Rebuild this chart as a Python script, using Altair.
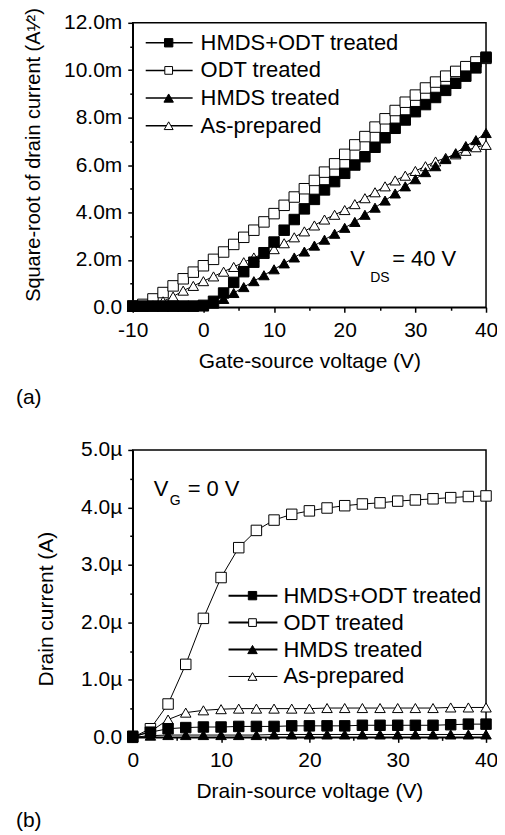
import altair as alt
import pandas as pd

FONT = "Liberation Sans"

SERIES = ["HMDS+ODT treated", "ODT treated", "HMDS treated", "As-prepared"]
SHAPES = ["square", "square", "triangle-up", "triangle-up"]
FILLS = ["black", "white", "black", "white"]
DRAW_ORDER = [3, 1, 4, 2]

# ---------- (a) transfer curves: sqrt(Id) in mA^1/2 vs Vgs ----------
VGS = [-10.0, -8.57, -7.14, -5.71, -4.29, -2.86, -1.43, 0.0, 1.43, 2.86, 4.29, 5.71,
       7.14, 8.57, 10.0, 11.43, 12.86, 14.29, 15.71, 17.14, 18.57, 20.0, 21.43, 22.86,
       24.29, 25.71, 27.14, 28.57, 30.0, 31.43, 32.86, 34.29, 35.71, 37.14, 38.57, 40.0]
SQRT_HMDS_ODT = [0.05, 0.05, 0.05, 0.05, 0.05, 0.05, 0.05, 0.08, 0.25, 0.6, 1.05, 1.5,
                 1.9, 2.3, 2.75, 3.25, 3.7, 4.15, 4.55, 4.95, 5.3, 5.65, 6.0, 6.35,
                 6.75, 7.15, 7.55, 7.9, 8.25, 8.55, 8.85, 9.15, 9.45, 9.75, 10.1, 10.55]
SQRT_ODT = [0.05, 0.12, 0.35, 0.62, 0.9, 1.2, 1.48, 1.75, 2.02, 2.33, 2.65, 2.95,
            3.25, 3.6, 3.95, 4.3, 4.65, 5.0, 5.35, 5.7, 6.05, 6.45, 6.85, 7.2,
            7.6, 7.95, 8.3, 8.65, 8.95, 9.25, 9.5, 9.75, 9.95, 10.15, 10.35, 10.5]
SQRT_HMDS = [0.02, 0.02, 0.02, 0.02, 0.02, 0.02, 0.02, 0.03, 0.15, 0.35, 0.6, 0.85,
             1.1, 1.35, 1.6, 1.85, 2.1, 2.35, 2.6, 2.85, 3.1, 3.35, 3.6, 3.9,
             4.2, 4.5, 4.8, 5.1, 5.4, 5.7, 5.95, 6.25, 6.5, 6.8, 7.05, 7.35]
SQRT_ASPREP = [0.02, 0.03, 0.08, 0.25, 0.45, 0.7, 0.9, 1.1, 1.3, 1.5, 1.7, 1.9,
               2.1, 2.25, 2.45, 2.7, 2.95, 3.2, 3.45, 3.7, 3.9, 4.1, 4.35, 4.6,
               4.85, 5.1, 5.35, 5.55, 5.75, 5.95, 6.15, 6.3, 6.45, 6.6, 6.75, 6.85]

# ---------- (b) output curves at Vg = 0: Id in uA vs Vds ----------
VDS = [0, 2, 4, 6, 8, 10, 12, 14, 16, 18, 20, 22, 24, 26, 28, 30, 32, 34, 36, 38, 40]
ID_HMDS_ODT = [0.02, 0.09, 0.15, 0.17, 0.18, 0.18, 0.19, 0.19, 0.19, 0.2, 0.2,
               0.2, 0.2, 0.21, 0.21, 0.21, 0.21, 0.21, 0.22, 0.23, 0.23]
ID_ODT = [0.0, 0.15, 0.58, 1.27, 2.07, 2.78, 3.3, 3.6, 3.78, 3.88, 3.94,
          3.99, 4.03, 4.06, 4.08, 4.11, 4.13, 4.15, 4.17, 4.19, 4.2]
ID_HMDS = [0.0, 0.03, 0.04, 0.04, 0.04, 0.04, 0.04, 0.04, 0.05, 0.05, 0.05,
           0.05, 0.05, 0.05, 0.05, 0.05, 0.05, 0.05, 0.05, 0.05, 0.05]
ID_ASPREP = [0.0, 0.1, 0.31, 0.43, 0.47, 0.49, 0.5, 0.5, 0.5, 0.5, 0.5,
             0.51, 0.51, 0.51, 0.51, 0.51, 0.51, 0.51, 0.52, 0.52, 0.52]


def long_df(xs, ys_list):
    rows = []
    for s, ys, d in zip(SERIES, ys_list, DRAW_ORDER):
        for x, y in zip(xs, ys):
            rows.append({"series": s, "x": x, "y": y, "draw": d})
    return pd.DataFrame(rows)


df_a = long_df(VGS, [SQRT_HMDS_ODT, SQRT_ODT, SQRT_HMDS, SQRT_ASPREP])
df_b = long_df(VDS, [ID_HMDS_ODT, ID_ODT, ID_HMDS, ID_ASPREP])

shape_enc = alt.Shape("series:N", scale=alt.Scale(domain=SERIES, range=SHAPES), legend=None)
fill_enc = alt.Fill("series:N", scale=alt.Scale(domain=SERIES, range=FILLS), legend=None)


def panel(df, xdom, ydom, xmajor, xminor, ymajor, yminor, xtitle, ytitle, unit,
          w, h, ytitle_y, ytitle_pad, ytitle_size, sizes, line_widths, leg, annot, tag):
    xs = alt.Scale(domain=xdom, nice=False, zero=False)
    ys = alt.Scale(domain=ydom, nice=False, zero=False)
    lab = f"datum.value == 0 ? '0.0' : format(datum.value, '.1f') + '{unit}'"
    x_major = alt.X("x:Q", scale=xs, axis=alt.Axis(
        values=xmajor, title=xtitle, tickSize=5, labelPadding=7, titlePadding=10,
        labelExpr="'' + datum.value", labelFlush=False, orient="bottom"))
    y_major = alt.Y("y:Q", scale=ys, axis=alt.Axis(
        values=ymajor, title=ytitle, tickSize=5, labelPadding=6, labelExpr=lab,
        titlePadding=ytitle_pad, titleY=ytitle_y, titleFontSize=ytitle_size,
        labelFlush=False, orient="left"))
    x_minor = alt.X("x:Q", scale=xs, axis=alt.Axis(
        values=xminor, title=None, labels=False, domain=False, tickSize=3, orient="bottom"))
    y_minor = alt.Y("y:Q", scale=ys, axis=alt.Axis(
        values=yminor, title=None, labels=False, domain=False, tickSize=3, orient="left"))

    base = alt.Chart(df)
    lines = base.mark_line(color="black").encode(
        x=x_major, y=y_major, detail="series:N",
        strokeWidth=alt.StrokeWidth("series:N", scale=alt.Scale(domain=SERIES, range=line_widths), legend=None))
    points = base.mark_point(filled=True, stroke="black", strokeWidth=1, opacity=1).encode(
        x=alt.X("x:Q", scale=xs, axis=None), y=alt.Y("y:Q", scale=ys, axis=None),
        shape=shape_enc, fill=fill_enc,
        size=alt.Size("series:N", scale=alt.Scale(domain=SERIES, range=sizes), legend=None),
        order=alt.Order("draw:Q"))
    minor = base.mark_point(opacity=0).encode(x=x_minor, y=y_minor)

    layers = [lines, points, minor]

    # manual legend
    lx0, lx1, lxm, ltx, ly0, ldy, lwidths, lsizes = leg
    for i, s in enumerate(SERIES):
        yy = ly0 + i * ldy
        one = alt.Chart(pd.DataFrame({"s": [s]}))
        layers.append(one.mark_rule(color="black", strokeWidth=lwidths[i]).encode(
            x=alt.value(lx0), x2=alt.value(lx1), y=alt.value(yy)))
        layers.append(one.mark_point(filled=True, stroke="black", strokeWidth=1, opacity=1).encode(
            x=alt.value(lxm), y=alt.value(yy), shape=alt.value(SHAPES[i]),
            fill=alt.value(FILLS[i]), size=alt.value(lsizes[i])))
        layers.append(one.mark_text(align="left", baseline="middle", font=FONT, fontSize=22,
                                    color="black").encode(
            x=alt.value(ltx), y=alt.value(yy), text="s:N"))

    # annotation (main letter, subscript, rest)
    (vx, vy, sub, sx, sy, rest, rx) = annot
    for txt, px, py, fs in [("V", vx, vy, 22), (sub, sx, sy, 14), (rest, rx, vy, 22)]:
        layers.append(alt.Chart(pd.DataFrame({"t": [txt]})).mark_text(
            align="left", baseline="middle", font=FONT, color="black", fontSize=fs).encode(
            x=alt.value(px), y=alt.value(py), text="t:N"))

    tag_text, tx, ty = tag
    layers.append(alt.Chart(pd.DataFrame({"t": [tag_text]})).mark_text(
        align="left", baseline="middle", font=FONT, fontSize=21, color="black").encode(
        x=alt.value(tx), y=alt.value(ty), text="t:N"))

    return alt.layer(*layers).resolve_axis(x="independent", y="independent").properties(
        width=w, height=h)


top = panel(
    df_a, [-10, 40], [0, 12], [-10, 0, 10, 20, 30, 40], [-5, 5, 15, 25, 35],
    [0, 2, 4, 6, 8, 10, 12], [1, 3, 5, 7, 9, 11],
    "Gate-source voltage (V)", "Square-root of drain current (A\u00b9\u2044\u00b2)", "m",
    354, 285, 132, 20, 20,
    [110, 110, 160, 160], [1, 1, 1, 1],
    (13, 60, 36, 68, 20, 27.7, [1.5, 1.5, 1.5, 1.5], [70, 60, 90, 80]),
    (218, 237, "DS", 238, 256, "= 40 V", 260),
    ("(a)", -117, 376))

bottom = panel(
    df_b, [0, 40], [0, 5], [0, 10, 20, 30, 40], [5, 15, 25, 35],
    [0, 1, 2, 3, 4, 5], [0.5, 1.5, 2.5, 3.5, 4.5],
    "Drain-source voltage (V)", "Drain current (A)", "\u00b5",
    354, 288, 159, 24, 21,
    [120, 100, 170, 170], [1.2, 1.5, 1.2, 1],
    (96, 145, 120, 151, 146, 27, [2, 2, 2, 1], [70, 60, 90, 80]),
    (21, 39, "G", 37, 51, "= 0 V", 55),
    ("(b)", -117, 372))

chart = alt.vconcat(top, bottom, spacing=143, bounds="flush").properties(
    padding={"left": 7, "top": -3, "right": -2, "bottom": 0}
).configure_view(stroke="black", strokeWidth=1.5).configure_axis(
    labelFont=FONT, titleFont=FONT, labelFontSize=21, titleFontSize=21,
    labelColor="black", titleColor="black", domainColor="black", tickColor="black",
    domainWidth=1.5, tickWidth=1.5, grid=False, titleFontWeight="normal"
)

chart.save("out.html", embed_options={"renderer": "svg", "actions": False})
